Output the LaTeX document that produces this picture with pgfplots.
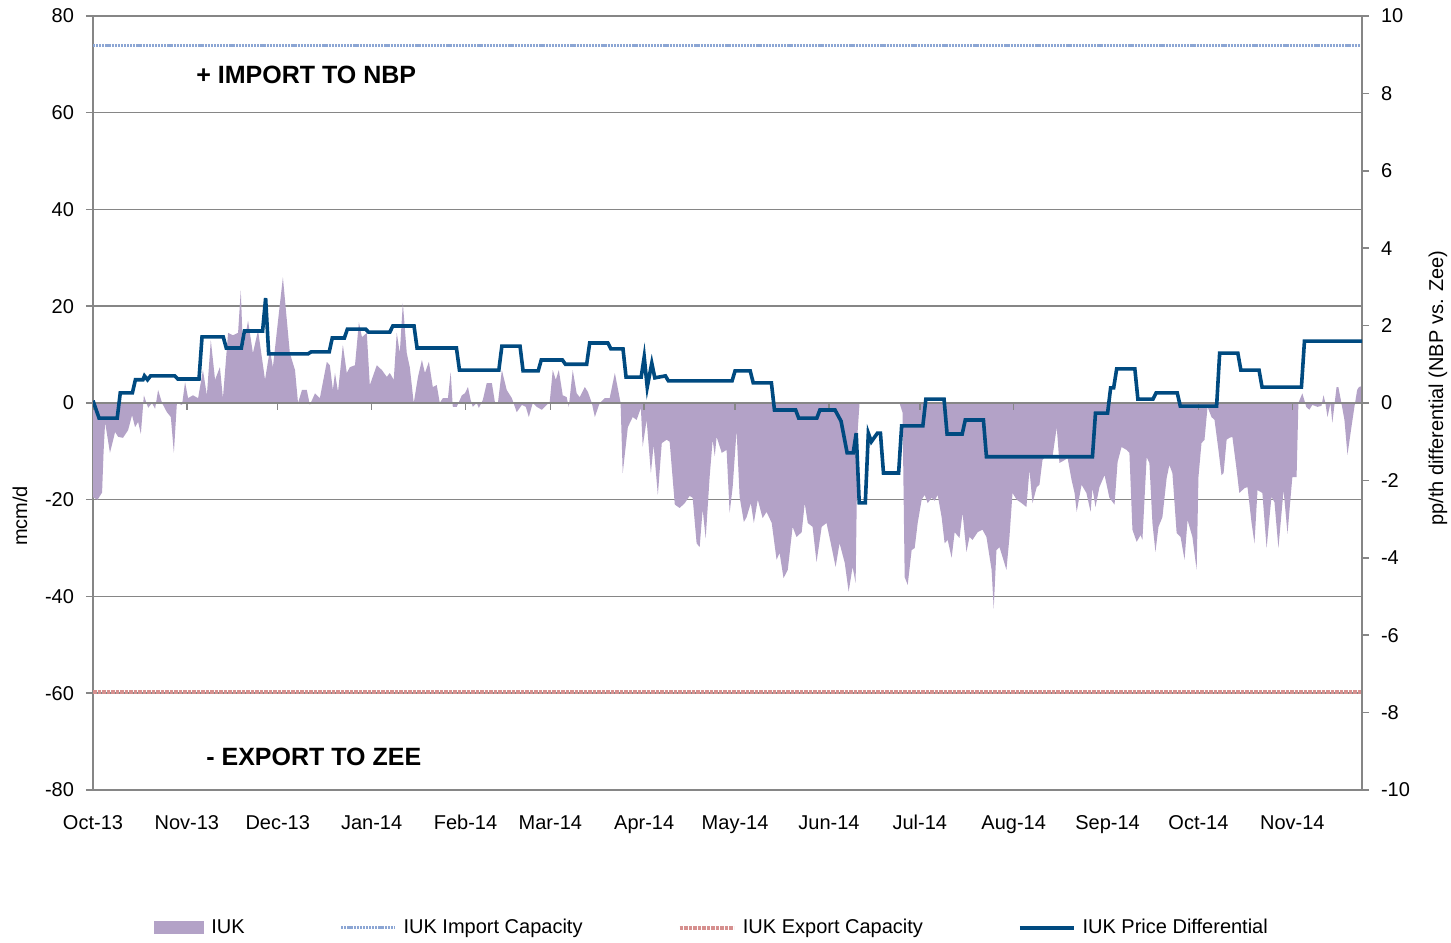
\documentclass[border=0pt]{standalone}
\usepackage{fontspec}
\setmainfont{Liberation Sans}
\usepackage{pgfplots}
\usepackage{pgfplotstable}
\pgfplotsset{compat=1.18}
\usetikzlibrary{calc}
\definecolor{iukfill}{RGB}{179,162,199}
\definecolor{impcol}{RGB}{140,166,212}
\definecolor{expcol}{RGB}{214,144,143}
\definecolor{pricecol}{RGB}{0,74,128}
\definecolor{gridcol}{RGB}{134,134,134}

\pgfplotstableread{
day val
0 0
0 -19.5
1.5 -20
3 -18.5
3.5 -10
4 -4
5.6 -10.3
7.3 -6
8.3 -7
9.9 -7.2
11.6 -5.6
12.9 -2.5
13.9 -5
14.9 -3.9
15.8 -6.4
16.8 1.6
18.2 -1
19.5 0
20.5 -1.2
21.5 2.7
22.8 0
24.4 -1.9
25.7 -2.9
26.7 -10.3
27.7 0
29.4 -0.4
30.4 4.3
31.4 1
33 1.6
34.7 1
36.3 6.8
37.6 1.6
38.9 13
40.3 4.8
41.9 7.4
42.9 1
44.6 14.5
46.2 14
47.9 14.5
48.8 23.3
49.5 11
51.2 17
52.8 10.3
54.5 15
56.8 4.8
58.4 11
59.4 7.4
61.1 17
62.7 26
65 10.3
66.7 6.8
67.7 0
69 2.7
70.6 2.7
71.6 -0.4
73.3 2
74.9 1
77.2 8.5
78.2 7.8
79.2 2.7
79.9 6.2
80.9 2.3
82.5 12
83.8 6.2
84.8 7.4
86.5 7.8
87.8 16.7
88.8 13.6
90.4 14.5
91.4 3.7
93.7 7.8
95.4 6.8
97 5.4
98 6.2
99.3 4.8
100.3 14.5
101.3 10.3
102.3 20.7
103.6 10.3
104.6 7.4
105.9 0
107.3 5.4
108.6 8.9
109.6 6.2
110.9 8.5
112.2 3.3
113.5 3.7
114.5 0
115.5 1
117.2 1
118.1 6.4
118.8 -0.8
120.1 -0.8
121.8 1.6
122.8 2
123.8 3.3
124.7 0.6
125.4 -0.8
126.7 0
127.4 -1
128.7 0.6
130 4.1
131.7 4.1
132.7 0.2
133.7 0
135 6.8
136.6 2.7
138.3 1
139.9 -1.9
141.6 -0.4
142.9 -0.8
143.9 -2.9
145.2 0
146.5 -0.8
148.2 -1.4
149.8 -0.4
150.8 0.2
151.8 6.8
152.8 4.8
153.8 6.8
155.1 1.6
156.4 1.2
157.1 -0.8
158.4 6.8
159.7 2
160.7 1.2
162.4 3.3
163.4 2.3
164.7 0
165.7 -2.9
167.3 0
169 1
170.6 1
172.3 6.2
173.6 2
174.2 0
174.9 -14.5
176.6 -5
178.2 -2.9
179.5 -3.5
180.9 -1
181.5 -9
182.8 -3.5
184.2 -14.5
185.1 -8.7
186.5 -19
187.8 -8.3
189.4 -7.6
190.4 -8
192.1 -21
193.7 -21.7
195.4 -20.7
197 -19.2
198 -19.6
199.3 -29
200.3 -29.8
201.3 -22
202.3 -28
203.6 -15.3
204.6 -7.6
205.3 -11
205.9 -7
207.6 -10.3
209.2 -9.7
210.2 -22.7
211.2 -17.4
212.5 -5.6
213.5 -19.4
214.9 -24.6
215.8 -23.6
217.2 -20.7
218.2 -24.8
219.5 -20
221.1 -23.8
222.4 -22.5
224.1 -24.8
225.7 -32.4
226.7 -31
228 -36.2
229.4 -34.5
231 -25.6
232.3 -27.7
234 -26.7
235 -20.7
236 -24.8
237.6 -25.6
238.9 -32.9
240.6 -25.6
242.2 -24.8
243.6 -29
245.2 -33.9
246.5 -29
248.2 -33
249.5 -39
250.8 -33.9
251.8 -37.2
252.5 -5.6
253.1 0
266.3 0
267.3 -2
268 -36
269 -37.6
270.3 -30.4
271.3 -30
272.3 -24.8
273.6 -20
274.6 -19
275.6 -20.7
276.9 -19.6
277.9 -20.2
278.9 -19
280.2 -23.6
281.2 -29
282.2 -28.3
283.5 -32
284.5 -26.7
286.1 -27.9
287.1 -22.7
288.4 -30.8
289.4 -27.7
290.4 -28.3
292.1 -26.7
293.7 -26.2
295 -27.7
296.7 -34.5
297.4 -42.5
298.3 -30.4
299.3 -29.8
300.3 -31.8
301.6 -34.5
302.6 -27.7
303.6 -18.6
305 -20
306.6 -20.7
308.2 -21.5
309.2 -13.8
310.2 -20.7
311.6 -17.4
312.5 -16.9
313.5 -11.8
314.9 -10.7
315.8 -10.7
316.8 -11.2
318.2 -5
319.1 -12.4
320.8 -11.8
321.8 -11.4
323.1 -15.9
324.1 -18.6
324.8 -22.5
326.4 -16.9
328 -18.6
329.4 -22.5
330 -17.6
331 -21.5
332.3 -17.4
334 -14.9
335.6 -19.6
337.3 -21
338.3 -12.2
339.6 -9.1
341.3 -9.7
342.2 -10.3
343.2 -26.2
344.6 -28.7
345.9 -27.3
346.5 -28.3
347.9 -11.2
348.8 -12.4
349.8 -24.8
350.8 -30.8
351.8 -25.6
353.1 -23.6
354.5 -15.5
355.4 -12.8
356.4 -14.5
357.8 -26.9
359.1 -27.7
360.4 -32.4
361.4 -24.2
363 -27.7
364.4 -34.5
365 -15.3
366 -8.3
367 -7.6
368 -0.8
369.3 -2.9
370.3 -3.5
371.6 -9.7
372.6 -14.9
373.3 -14.5
374.3 -7.6
375.2 -7.2
376.2 -7
377.6 -13.8
378.5 -18.6
380.2 -17.6
381.2 -17.4
382.5 -24.6
383.5 -29
384.5 -18
386.1 -18.6
387.5 -30
389.1 -19.4
390.1 -20.5
391.4 -30
393.1 -18
394.4 -27
396 -15.3
397.4 -15.3
398 0
399.3 2
400.6 -0.8
401.6 -1.4
402.6 -0.4
404.3 -0.8
405.6 -0.6
406.3 1.6
406.9 0
407.6 -2.9
408.6 0
409.2 -4.1
410.6 3.3
411.2 3.3
412.2 0
413.2 -3.5
414.2 -10.7
415.5 -5
416.5 -0.8
417.4 2.7
418 3.3
419 3.5
419 0
}\iuk

\pgfplotstableread{
day val
0 0.06
2 -0.39
8 -0.39
9 0.26
13 0.26
14 0.6
16.5 0.6
17 0.7
18 0.6
19 0.7
27 0.7
28 0.62
35 0.62
36 1.71
43 1.71
44 1.42
49 1.42
50 1.86
56 1.86
57 2.71
58 1.27
71 1.27
72 1.32
78 1.32
79 1.68
83 1.68
84 1.91
90 1.91
91 1.83
98 1.83
99 1.99
106 1.99
107 1.42
120 1.42
121 0.85
134 0.85
135 1.47
141 1.47
142 0.83
147 0.83
148 1.11
155 1.11
156 1.0
163 1.0
164 1.55
170 1.55
171 1.4
175 1.4
176 0.67
181 0.67
182 1.19
183 0.41
184.5 1.03
185.5 0.65
189 0.7
190 0.57
211 0.57
212 0.83
217 0.83
218 0.52
224 0.52
225 -0.18
232 -0.18
233 -0.39
239 -0.39
240 -0.18
245 -0.18
247 -0.47
249 -1.29
251 -1.29
252 -0.78
253 -2.58
255 -2.58
256 -0.78
257 -1.0
259 -0.78
260 -0.78
261 -1.81
266 -1.81
267 -0.59
274 -0.59
275 0.1
281 0.1
282 -0.8
287 -0.8
288 -0.44
294 -0.44
295 -1.39
330 -1.39
331 -0.26
335 -0.26
336 0.39
337 0.39
338 0.88
344 0.88
345 0.1
350 0.1
351 0.26
358 0.26
359 -0.08
371 -0.08
372 1.29
378 1.29
379 0.85
385 0.85
386 0.41
399 0.41
400 1.6
419 1.6
}\price

\begin{document}
\begin{tikzpicture}[font=\fontsize{10bp}{12bp}\selectfont]
\begin{axis}[
  scale only axis, width=634.5bp, height=387bp,
  xmin=0, xmax=419, ymin=-80, ymax=80,
  axis x line*=bottom, axis y line*=left,
  axis line style={draw=gridcol, line width=0.75bp, -},
  xtick={0,31,61,92,123,151,182,212,243,273,304,335,365,396},
  xticklabels={Oct-13,Nov-13,Dec-13,Jan-14,Feb-14,Mar-14,Apr-14,May-14,Jun-14,Jul-14,Aug-14,Sep-14,Oct-14,Nov-14},
  ytick={-80,-60,...,80},
  ymajorgrids, grid style={draw=gridcol, line width=0.75bp},
  tick align=outside, major tick length=3.5bp,
  tick style={draw=gridcol, line width=0.75bp},
  xtick style={draw=none},
  xticklabel style={anchor=north, yshift=-5.6bp},
  yticklabel style={xshift=-2.5bp},
  /pgf/number format/assume math mode=true,
  legend columns=4,
  legend style={draw=none, fill=none, inner sep=0pt, at={(0.048,-0.178)}, anchor=west,
    /tikz/every odd column/.append style={column sep=1.5bp},
    /tikz/every even column/.append style={column sep=45.5bp}},
  legend image code/.code={\draw[#1] (0bp,0bp) -- (27bp,0bp);},
]
\coordinate (sw) at (rel axis cs:0,0);
\coordinate (ne) at (rel axis cs:1,1);
\coordinate (ylab) at (rel axis cs:0,0.354);
\coordinate (ylabr) at (rel axis cs:1,0.519);
\addplot[fill=iukfill, draw=none,
  legend image code/.code={\fill[iukfill] (0bp,-3.25bp) rectangle (25bp,3.25bp);}]
  table[x=day, y=val] {\iuk} \closedcycle;
\addlegendentry{IUK}
\addplot[impcol, line width=1.5bp, dash pattern=on 1.1bp off 0.45bp] coordinates {(0,74) (419,74)};
\addlegendentry{IUK Import Capacity}
\addplot[expcol, line width=2.2bp, dash pattern=on 1.8bp off 0.45bp] coordinates {(0,-59.7) (419,-59.7)};
\addlegendentry{IUK Export Capacity}
\addlegendimage{pricecol, line width=1.8bp}
\addlegendentry{IUK Price Differential}
\node[font=\fontsize{12.5bp}{14bp}\selectfont\bfseries] at (rel axis cs:0.168,0.924) {+ IMPORT TO NBP};
\node[font=\fontsize{12.5bp}{14bp}\selectfont\bfseries] at (rel axis cs:0.174,0.043) {- EXPORT TO ZEE};
\end{axis}
\begin{axis}[
  scale only axis, width=634.5bp, height=387bp,
  xmin=0, xmax=419, ymin=-10, ymax=10,
  axis y line*=right, axis x line*=middle,
  axis line style={draw=gridcol, line width=0.75bp, -},
  xtick={0,31,61,92,123,151,182,212,243,273,304,335,365,396},
  xticklabels={},
  ytick={-10,-8,...,10},
  tick align=outside, major tick length=3.5bp,
  tick style={draw=gridcol, line width=0.75bp},
  yticklabel style={xshift=2.5bp},
  /pgf/number format/assume math mode=true,
]
\addplot[pricecol, line width=1.8bp] table[x=day, y=val] {\price};
\end{axis}
\node[rotate=90] at ($(ylab)+(-36.5bp,0)$) {mcm/d};
\node[rotate=90] at ($(ylabr)+(38bp,0)$) {pp/th differential (NBP vs. Zee)};
\pgfresetboundingbox
\path[use as bounding box] ($(sw)+(-46.5bp,-76.5bp)$) rectangle ($(ne)+(44.5bp,8bp)$);
\end{tikzpicture}
\end{document}
